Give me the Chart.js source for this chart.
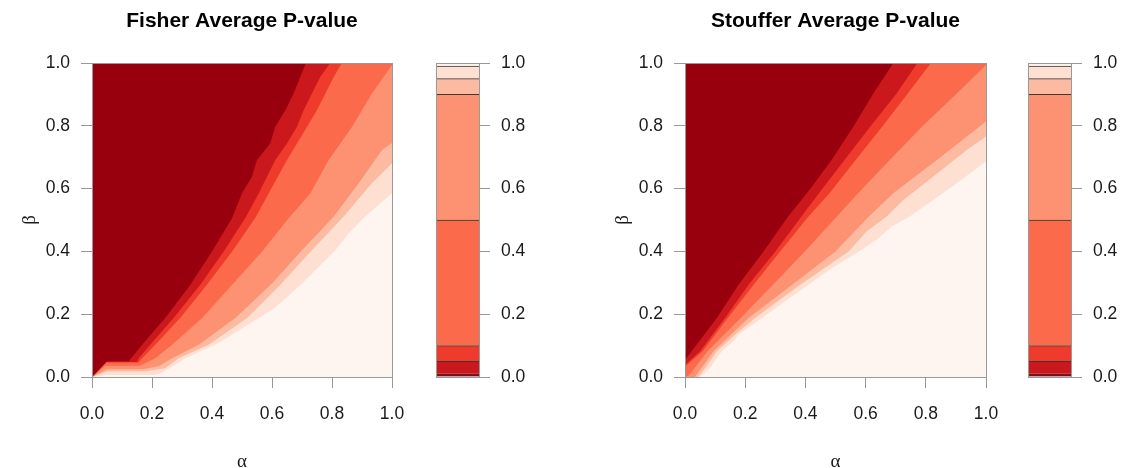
<!DOCTYPE html>
<html lang="en">
<head>
<meta charset="UTF-8">
<title>Fisher / Stouffer Average P-value</title>
<script src="https://cdn.jsdelivr.net/npm/chart.js"></script>
<style>
  body { margin: 0; background: #fff; overflow: hidden; }
  .box { position: absolute; top: 0; }
</style>
</head>
<body>
<div class="box" style="left:0;width:484px;height:480px"><canvas id="fisher"></canvas></div>
<div class="box" style="left:436px;width:100px;height:468px"><canvas id="fisherKey"></canvas></div>
<div class="box" style="left:593px;width:485px;height:480px"><canvas id="stouffer"></canvas></div>
<div class="box" style="left:1028px;width:96px;height:468px"><canvas id="stoufferKey"></canvas></div>

<script>
// contour breaks and fill colours (RColorBrewer Reds, 8 classes, dark = small p)
const levels = [0, 0.01, 0.05, 0.1, 0.5, 0.9, 0.95, 0.99, 1];
const colors = ['#99000D', '#CB181D', '#EF3B2C', '#FB6A4A', '#FC9272', '#FCBBA1', '#FEE0D2', '#FFF5F0'];
const axisTicks = [0, 0.2, 0.4, 0.6, 0.8, 1];

// contour lines, [alpha, beta] pairs
const fisher01 = [[0,0],[0.05,0.05],[0.122,0.05],[0.167,0.103],[0.244,0.188],[0.328,0.294],[0.40,0.40],[0.467,0.506],[0.50,0.585],[0.533,0.638],[0.55,0.691],[0.594,0.744],[0.611,0.797],[0.645,0.85],[0.672,0.903],[0.713,1.0]];
const fisher05 = [[0,0],[0.048,0.048],[0.15,0.048],[0.156,0.06],[0.194,0.103],[0.272,0.188],[0.361,0.294],[0.439,0.40],[0.511,0.506],[0.556,0.585],[0.611,0.691],[0.65,0.744],[0.683,0.797],[0.706,0.85],[0.733,0.903],[0.761,0.956],[0.794,1.0]];
const fisher10 = [[0,0],[0.047,0.046],[0.155,0.046],[0.167,0.06],[0.211,0.103],[0.294,0.188],[0.383,0.294],[0.467,0.40],[0.544,0.506],[0.589,0.585],[0.65,0.691],[0.717,0.797],[0.75,0.85],[0.778,0.903],[0.806,0.956],[0.833,1.0]];
const fisher50 = [[0,0],[0.045,0.036],[0.16,0.036],[0.211,0.06],[0.267,0.103],[0.367,0.188],[0.467,0.294],[0.567,0.40],[0.656,0.506],[0.728,0.585],[0.789,0.691],[0.867,0.797],[0.933,0.903],[1.0,0.994]];
const fisher90 = [[0,0],[0.05,0.025],[0.17,0.025],[0.222,0.034],[0.267,0.06],[0.356,0.103],[0.478,0.188],[0.6,0.298],[0.7,0.404],[0.806,0.511],[0.889,0.617],[0.967,0.723],[1.0,0.745]];
const fisher95 = [[0,0],[0.05,0.018],[0.18,0.018],[0.244,0.028],[0.289,0.06],[0.389,0.103],[0.517,0.188],[0.628,0.294],[0.733,0.404],[0.839,0.511],[0.933,0.617],[1.0,0.681]];
const fisher99 = [[0,0],[0.05,0.006],[0.2,0.006],[0.222,0.008],[0.278,0.039],[0.311,0.06],[0.422,0.108],[0.556,0.188],[0.6,0.213],[0.639,0.245],[0.7,0.298],[0.756,0.351],[0.811,0.404],[0.856,0.458],[0.911,0.511],[1.0,0.585]];

const stouffer01 = [[0,0.054],[0.022,0.082],[0.106,0.188],[0.178,0.294],[0.261,0.40],[0.339,0.506],[0.417,0.6],[0.487,0.691],[0.559,0.797],[0.626,0.903],[0.692,1.0]];
const stouffer05 = [[0,0.038],[0.05,0.082],[0.133,0.188],[0.211,0.294],[0.30,0.40],[0.383,0.506],[0.445,0.585],[0.53,0.691],[0.615,0.797],[0.703,0.903],[0.772,1.0]];
const stouffer10 = [[0,0.033],[0.058,0.082],[0.142,0.188],[0.228,0.294],[0.316,0.40],[0.406,0.506],[0.48,0.585],[0.567,0.691],[0.655,0.797],[0.74,0.903],[0.817,1.0]];
const stouffer50 = [[0,0],[0.012,0.004],[0.075,0.082],[0.185,0.188],[0.292,0.294],[0.398,0.40],[0.5,0.506],[0.575,0.585],[0.68,0.691],[0.787,0.797],[0.903,0.903],[1.0,0.994]];
const stouffer90 = [[0,0],[0.033,0],[0.095,0.082],[0.211,0.188],[0.356,0.294],[0.5,0.40],[0.606,0.506],[0.692,0.585],[0.837,0.691],[1.0,0.814]];
const stouffer95 = [[0,0],[0.044,0],[0.067,0.029],[0.106,0.082],[0.167,0.135],[0.233,0.188],[0.383,0.294],[0.544,0.40],[0.603,0.463],[0.67,0.511],[0.725,0.564],[0.797,0.617],[0.936,0.723],[1.0,0.766]];
const stouffer99 = [[0,0],[0.05,0],[0.083,0.029],[0.122,0.082],[0.161,0.114],[0.178,0.135],[0.256,0.188],[0.333,0.241],[0.411,0.294],[0.489,0.347],[0.578,0.40],[0.636,0.436],[0.686,0.479],[0.747,0.511],[0.825,0.564],[0.903,0.617],[1.0,0.686]];

const sans = "'Liberation Sans', Arial, sans-serif";
const serif = "'Liberation Serif', 'DejaVu Serif', serif";
const tickColor = '#999';

// plot background + grey box round the plot area
const frame = {
  id: 'frame',
  beforeDatasetsDraw(chart, args, opts) {
    if (!opts.fill) return;
    const a = chart.chartArea, ctx = chart.ctx;
    ctx.save();
    ctx.fillStyle = opts.fill;
    ctx.fillRect(a.left, a.top, a.right - a.left, a.bottom - a.top);
    ctx.restore();
  },
  afterDraw(chart) {
    const a = chart.chartArea, ctx = chart.ctx;
    const l = Math.round(a.left), t = Math.round(a.top), r = Math.round(a.right), b = Math.round(a.bottom);
    ctx.save();
    ctx.strokeStyle = tickColor;
    ctx.lineWidth = 1;
    ctx.strokeRect(l + 0.5, t + 0.5, r - l, b - t);
    ctx.restore();
  }
};

function tickOpts(pad) {
  return {
    autoSkip: false, maxRotation: 0, padding: pad, color: '#1a1a1a',
    font: { family: sans, size: 17.5 },
    callback: v => Number(v).toFixed(1)
  };
}

function fixTicks(scale) {
  scale.ticks = axisTicks.map(v => ({ value: v }));
}

function drawPanel(id, title, curves) {
  new Chart(document.getElementById(id), {
    type: 'line',
    data: {
      datasets: curves.map((pts, k) => ({
        data: pts.map(p => ({ x: p[0], y: p[1] })),
        fill: 'end',
        backgroundColor: colors[k],
        borderColor: 'rgba(0,0,0,0)',
        borderWidth: 0,
        pointRadius: 0,
        tension: 0
      }))
    },
    options: {
      responsive: true,
      maintainAspectRatio: false,
      animation: false,
      events: [],
      layout: { padding: 0 },
      plugins: {
        legend: { display: false },
        tooltip: { enabled: false },
        frame: { fill: colors[7] },
        title: {
          display: true, text: title, color: '#000',
          font: { family: sans, size: 21, weight: 'bold' },
          padding: { top: 9, bottom: 28.8 }
        }
      },
      scales: {
        x: {
          type: 'linear', min: 0, max: 1,
          afterBuildTicks: fixTicks,
          afterFit: s => { s.height = 103; },
          ticks: tickOpts(16),
          grid: { drawOnChartArea: false, tickLength: 11, color: tickColor },
          border: { display: false },
          title: { display: true, text: 'α', color: '#1a1a1a', font: { family: serif, size: 19 }, padding: { top: 0, bottom: 7 } }
        },
        y: {
          type: 'linear', min: 0, max: 1,
          afterBuildTicks: fixTicks,
          afterFit: s => { s.width = 92; },
          ticks: tickOpts(11),
          grid: { drawOnChartArea: false, tickLength: 11, color: tickColor },
          border: { display: false },
          title: { display: true, text: 'β', color: '#1a1a1a', font: { family: serif, size: 19 }, padding: { top: 19, bottom: 0 } }
        },
        // empty right margin, same width as the left axis, so the title sits over the plot
        spacer: {
          type: 'linear', position: 'right', display: true,
          afterFit: s => { s.width = 92; },
          ticks: { display: false },
          grid: { display: false },
          border: { display: false }
        }
      }
    },
    plugins: [frame]
  });
}

function drawKey(id, axisWidth) {
  new Chart(document.getElementById(id), {
    type: 'bar',
    data: {
      labels: [''],
      datasets: colors.map((c, i) => ({
        data: [[levels[i], levels[i + 1]]],
        backgroundColor: c,
        borderColor: '#3a3a3a',
        borderWidth: { top: 1, bottom: 0, left: 0, right: 0 },
        borderSkipped: false,
        barPercentage: 1,
        categoryPercentage: 1,
        grouped: false
      }))
    },
    options: {
      responsive: true,
      maintainAspectRatio: false,
      animation: false,
      events: [],
      layout: { padding: { left: 0, right: 0, top: 63, bottom: 91 } },
      plugins: { legend: { display: false }, tooltip: { enabled: false } },
      scales: {
        x: { display: false },
        y: {
          position: 'right', min: 0, max: 1,
          afterBuildTicks: fixTicks,
          afterFit: s => { s.width = axisWidth; },
          ticks: tickOpts(11),
          grid: { drawOnChartArea: false, tickLength: 11, color: tickColor },
          border: { display: false }
        }
      }
    },
    plugins: [frame]
  });
}

drawPanel('fisher', 'Fisher Average P-value',
  [fisher01, fisher05, fisher10, fisher50, fisher90, fisher95, fisher99]);
drawKey('fisherKey', 57);
drawPanel('stouffer', 'Stouffer Average P-value',
  [stouffer01, stouffer05, stouffer10, stouffer50, stouffer90, stouffer95, stouffer99]);
drawKey('stoufferKey', 53);
</script>
</body>
</html>
